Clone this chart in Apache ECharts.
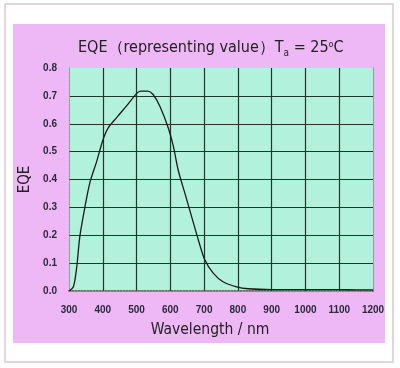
<!DOCTYPE html>
<html><head><meta charset="utf-8">
<script src="https://cdn.jsdelivr.net/npm/echarts@6/dist/echarts.min.js"></script>
<style>html,body{margin:0;padding:0;background:#fff}#c{width:400px;height:368px}</style>
</head><body><div id="c"></div>
<script>
const wavelength = [300,313,323,332,347,362,382,400,416,441,471,500,512,533,549,569,594,609,623,643,663,683,702,727,756,796,830,900,1000,1100,1150,1200];
const eqe = [0.0,0.015,0.087,0.195,0.30,0.39,0.465,0.54,0.585,0.622,0.665,0.708,0.717,0.717,0.705,0.663,0.585,0.519,0.435,0.351,0.267,0.183,0.112,0.064,0.033,0.015,0.008,0.005,0.005,0.005,0.004,0.004];
const xTicks = [300,400,500,600,700,800,900,1000,1100,1200];
const yTicks = [0.0,0.1,0.2,0.3,0.4,0.5,0.6,0.7,0.8];

const chart = echarts.init(document.getElementById('c'));
const lab = {color:'#2a2a3a', fontFamily:'Liberation Sans Narrow, Liberation Sans, sans-serif', fontSize:10, fontWeight:'bold'};
const tf = 'DejaVu Sans Condensed, DejaVu Sans, sans-serif';
chart.setOption({
  backgroundColor:'#fff',
  animation:false,
  graphic:[
    {type:'rect', shape:{x:5,y:4,width:388,height:358}, style:{fill:'#fff', stroke:'#d6cccc', lineWidth:1.5}, z:-10},
    {type:'rect', shape:{x:13,y:24,width:372,height:319}, style:{fill:'#EEB8F6'}, z:-9},
    {type:'rect', shape:{x:69,y:68,width:304,height:223}, style:{fill:'#B2F1DB'}, z:-8},
    {type:'text', left:78, top:40, style:{
      text:'{m|EQE（representing value）T}{s|a}{m| = 25}{u|o}{m|C}',
      rich:{
        m:{fontSize:16, fontFamily:tf, fill:'#222'},
        s:{fontSize:10, fontFamily:tf, fill:'#222', padding:[10,0,0,0]},
        u:{fontSize:9, fontFamily:tf, fill:'#222', padding:[0,0,6,0]}
      }
    }}
  ],
  grid:{left:69, right:27, top:68, bottom:77},
  xAxis:[{
    type:'value', min:300, max:1200, interval:100,
    name:'Wavelength / nm', nameLocation:'middle', nameGap:31,
    nameTextStyle:{fontSize:15.5, color:'#222', fontFamily:tf, padding:[0,22,0,0]},
    axisLine:{show:true, lineStyle:{color:'#3a4a40', type:'dotted', width:1.5}},
    axisTick:{show:false},
    axisLabel:Object.assign({margin:14, formatter:v=>xTicks.includes(v)?String(v):''}, lab),
    splitLine:{show:true, showMinLine:false, showMaxLine:false, lineStyle:{color:'#23352b', width:1.2}}
  },{
    type:'value', position:'top', min:300, max:1200, interval:100,
    axisLine:{show:true, lineStyle:{color:'#7a9a8a', type:'dotted'}},
    axisTick:{show:false}, axisLabel:{show:false}, splitLine:{show:false}
  }],
  yAxis:[{
    type:'value', min:0, max:0.8, interval:0.1,
    name:'EQE', nameLocation:'middle', nameGap:31, nameRotate:90,
    nameTextStyle:{fontSize:15, color:'#222', fontFamily:tf},
    axisLine:{show:true, lineStyle:{color:'#7a9a8a', type:'dotted'}},
    axisTick:{show:false},
    axisLabel:Object.assign({margin:12, formatter:v=>v.toFixed(1)}, lab),
    splitLine:{show:true, showMinLine:false, showMaxLine:false, lineStyle:{color:'#23352b', width:1.2}}
  },{
    type:'value', position:'right', min:0, max:0.8, interval:0.1,
    axisLine:{show:true, lineStyle:{color:'#7a9a8a', type:'dotted'}},
    axisTick:{show:false}, axisLabel:{show:false}, splitLine:{show:false}
  }],
  series:[{
    type:'line', smooth:0.3, symbol:'none',
    data: wavelength.map((w,i)=>[w, eqe[i]]),
    lineStyle:{color:'#1a1a1a', width:1.3}
  }]
});
</script></body></html>
